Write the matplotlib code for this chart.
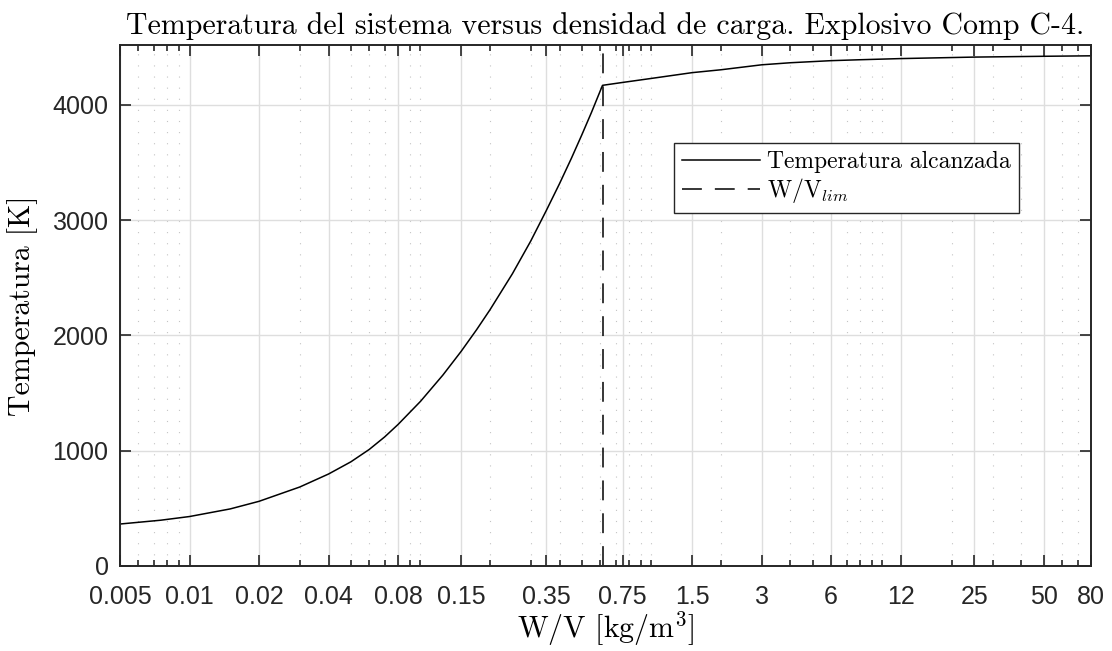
import numpy as np
import matplotlib
matplotlib.use('Agg')
import matplotlib.pyplot as plt
from matplotlib.ticker import FixedLocator, FixedFormatter, NullFormatter

plt.rcParams['mathtext.fontset'] = 'cm'
plt.rcParams['axes.formatter.use_mathtext'] = True

# Densidad de carga W/V [kg/m^3] y temperatura alcanzada [K]
wv = [0.005, 0.0075, 0.01, 0.015, 0.02, 0.03, 0.04, 0.05, 0.06, 0.07, 0.08, 0.1,
      0.125, 0.15, 0.175, 0.2, 0.25, 0.3, 0.35, 0.4, 0.45, 0.5, 0.55, 0.614,
      0.75, 1.0, 1.5, 2.0, 3.0, 4.0, 6.0, 8.0, 12.0, 25.0, 50.0, 80.0]
temp = [364, 397, 429, 495, 561, 685, 798, 904, 1011, 1120, 1228, 1428,
        1656, 1862, 2050, 2223, 2535, 2818, 3081, 3317, 3536, 3742, 3935, 4170,
        4195, 4230, 4280, 4305, 4348, 4366, 4384, 4392, 4402, 4415, 4422, 4426]
wv_lim = 0.614

xtick_vals = [0.005, 0.01, 0.02, 0.04, 0.08, 0.15, 0.35, 0.75, 1.5, 3, 6, 12, 25, 50, 80]
xtick_labels = ['0.005', '0.01', '0.02', '0.04', '0.08', '0.15', '0.35', '0.75',
                '1.5', '3', '6', '12', '25', '50', '80']
ytick_vals = [0, 1000, 2000, 3000, 4000]

axis_col = '#262626'
cm_font = 'cmr10'

fig = plt.figure(figsize=(11.12, 6.51), dpi=100)
ax = fig.add_axes([0.1079, 0.1306, 0.8732, 0.8003])

ax.plot(wv, temp, color='black', lw=1.1, label='Temperatura alcanzada')
ax.axvline(wv_lim, color='black', lw=1.1, dashes=(13, 8.5), label=r'W/V$_{lim}$')

ax.set_xscale('log')
ax.set_xlim(0.005, 80)
ax.set_ylim(0, 4520)

# subdivisiones logaritmicas 1..9 x 10^k para la rejilla menor
minor = [m * 10.0 ** k for k in range(-3, 2) for m in range(1, 10)]
minor = [v for v in minor if 0.005 <= v <= 80]
ax.xaxis.set_major_locator(FixedLocator(xtick_vals))
ax.xaxis.set_major_formatter(FixedFormatter(xtick_labels))
ax.xaxis.set_minor_locator(FixedLocator(minor))
ax.xaxis.set_minor_formatter(NullFormatter())
ax.set_yticks(ytick_vals)

for lab in ax.get_xticklabels() + ax.get_yticklabels():
    lab.set_fontfamily('Liberation Sans')
ax.tick_params(which='both', direction='in', top=True, right=True,
               colors=axis_col, labelsize=18, width=1.2)
ax.tick_params(which='major', length=8)
ax.tick_params(which='minor', length=4)
ax.tick_params(axis='x', pad=14)
ax.tick_params(axis='y', pad=8)

for s in ax.spines.values():
    s.set_color(axis_col)
    s.set_linewidth(1.4)

ax.grid(True, which='major', color='#dedede', lw=1.0, linestyle='-')
ax.xaxis.grid(True, which='minor', color='#c4c4c4', lw=0.8, linestyle=(0, (1, 9)))
ax.set_axisbelow(True)

ax.set_title('Temperatura del sistema versus densidad de carga. Explosivo Comp C-4.',
             fontfamily=cm_font, fontsize=21.5, pad=8)
ax.set_xlabel(r'W/V [kg/m$^3$]', fontfamily=cm_font, fontsize=21.5, labelpad=0)
ax.set_ylabel('Temperatura [K]', fontfamily=cm_font, fontsize=21.5, labelpad=10)

leg = ax.legend(loc='upper left', bbox_to_anchor=(0.5705, 0.812), fancybox=False,
                framealpha=1, edgecolor=axis_col, handlelength=3.3, handletextpad=0.3,
                borderpad=0.35, labelspacing=0.12, borderaxespad=0,
                prop={'family': cm_font, 'size': 17})
leg.get_frame().set_linewidth(1.0)

fig.savefig('out.png', dpi=100)
